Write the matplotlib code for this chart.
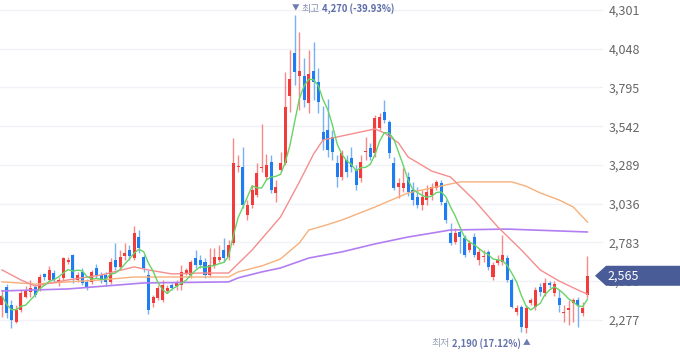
"""
Daily candle chart with 5/20/60/120 moving averages, Korean labels.
"""

import numpy as np
import pandas as pd
import matplotlib
matplotlib.use('Agg')
from matplotlib import pyplot as plt
from matplotlib.patches import Polygon
from matplotlib import transforms

plt.rcParams['font.family'] = ['Noto Sans CJK KR', 'DejaVu Sans']

# daily OHLC, oldest first
opens = [2374, 2492, 2374, 2263, 2342, 2427, 2459, 2492, 2472, 2577,
         2538, 2583, 2518, 2551, 2655, 2701, 2538, 2590, 2525, 2525,
         2616, 2570, 2570, 2525, 2668, 2623, 2694, 2734, 2681, 2818,
         2688, 2570, 2387, 2420, 2407, 2466, 2505, 2498, 2505, 2583,
         2570, 2681, 2668, 2655, 2570, 2636, 2668, 2734, 2688, 2779,
         3276, 3276, 2962, 3027, 3093, 3269, 3210, 3308, 3106, 3256,
         3302, 3739, 4020, 3870, 3870, 3693, 3902, 3831, 3504, 3517,
         3471, 3302, 3210, 3321, 3334, 3256, 3204, 3373, 3400, 3367,
         3530, 3635, 3569, 3302, 3145, 3138, 3210, 3125, 3080, 3027,
         3060, 3093, 3138, 3171, 3040, 2845, 2786, 2851, 2812, 2734,
         2818, 2668, 2688, 2721, 2557, 2649, 2655, 2681, 2538, 2329,
         2361, 2224, 2387, 2361, 2492, 2453, 2518, 2453, 2420, 2322,
         2342, 2387, 2407, 2322, 2440]
highs = [2472, 2511, 2407, 2374, 2472, 2498, 2538, 2511, 2577, 2583,
         2629, 2603, 2557, 2688, 2688, 2707, 2590, 2616, 2544, 2603,
         2642, 2590, 2590, 2681, 2779, 2734, 2779, 2766, 2890, 2864,
         2701, 2603, 2440, 2505, 2538, 2505, 2518, 2538, 2636, 2616,
         2668, 2734, 2701, 2681, 2747, 2747, 2766, 2812, 2799, 3465,
         3354, 3406, 3060, 3158, 3302, 3556, 3360, 3354, 3191, 3373,
         3896, 4040, 4270, 4157, 3987, 4040, 4092, 3922, 3674, 3720,
         3517, 3354, 3387, 3354, 3406, 3289, 3354, 3471, 3432, 3615,
         3628, 3713, 3582, 3341, 3204, 3269, 3243, 3178, 3145, 3125,
         3158, 3171, 3191, 3191, 3060, 2910, 2877, 2877, 2831, 2799,
         2845, 2747, 2734, 2734, 2655, 2701, 2831, 2701, 2551, 2374,
         2374, 2374, 2420, 2492, 2518, 2551, 2531, 2531, 2472, 2374,
         2407, 2420, 2427, 2394, 2694]
lows = [2296, 2289, 2224, 2257, 2329, 2420, 2427, 2427, 2466, 2538,
        2525, 2525, 2498, 2538, 2642, 2518, 2525, 2505, 2472, 2511,
        2551, 2518, 2498, 2511, 2603, 2603, 2668, 2668, 2668, 2714,
        2590, 2316, 2361, 2407, 2394, 2453, 2472, 2472, 2472, 2570,
        2551, 2616, 2616, 2551, 2557, 2616, 2655, 2655, 2668, 2766,
        3243, 3008, 2929, 3008, 3080, 3243, 3191, 3106, 3047, 3243,
        3289, 3635, 3811, 3648, 3667, 3628, 3713, 3628, 3387, 3341,
        3321, 3145, 3191, 3210, 3243, 3125, 3178, 3321, 3321, 3341,
        3517, 3563, 3334, 3125, 3073, 3112, 3086, 3027, 3008, 2995,
        3027, 3060, 3125, 3027, 2910, 2766, 2773, 2714, 2688, 2721,
        2688, 2636, 2655, 2603, 2538, 2636, 2636, 2525, 2355, 2309,
        2198, 2190, 2374, 2342, 2433, 2433, 2485, 2433, 2329, 2263,
        2244, 2263, 2231, 2303, 2420]
closes = [2433, 2322, 2276, 2342, 2453, 2472, 2485, 2440, 2557, 2557,
          2603, 2538, 2538, 2681, 2668, 2551, 2570, 2518, 2492, 2590,
          2570, 2538, 2525, 2655, 2623, 2688, 2714, 2694, 2845, 2747,
          2616, 2342, 2427, 2485, 2505, 2485, 2485, 2518, 2590, 2603,
          2655, 2636, 2636, 2570, 2636, 2688, 2688, 2681, 2766, 3302,
          3282, 3027, 3027, 3125, 3236, 3276, 3289, 3125, 3145, 3302,
          3667, 3850, 3896, 3902, 3713, 3883, 3831, 3700, 3452, 3387,
          3373, 3210, 3367, 3243, 3276, 3158, 3308, 3380, 3341, 3595,
          3602, 3582, 3367, 3138, 3171, 3171, 3112, 3060, 3027, 3080,
          3112, 3145, 3178, 3047, 2929, 2779, 2845, 2818, 2701, 2779,
          2701, 2721, 2694, 2623, 2636, 2668, 2701, 2538, 2361, 2355,
          2231, 2355, 2407, 2472, 2459, 2518, 2505, 2511, 2374, 2329,
          2355, 2407, 2374, 2355, 2565]

# longer averages (they need history before the window)
ma20_idx = [0, 4, 7, 14, 21, 28, 31, 36, 42, 48, 53, 59, 63, 66, 68, 72, 79,
            81, 84, 86, 91, 95, 100, 105, 110, 114, 118, 122, 124]
ma20_val = [2603, 2538, 2498, 2538, 2570, 2623, 2603, 2577, 2583, 2583,
            2734, 2949, 3178, 3360, 3452, 3478, 3524, 3498, 3432, 3341,
            3249, 3210, 3060, 2884, 2734, 2603, 2531, 2472, 2445]
ma60_idx = [0, 7, 14, 21, 28, 35, 48, 50, 55, 59, 63, 65, 68, 72, 79, 86,
            91, 97, 108, 111, 114, 118, 121, 124]
ma60_val = [2525, 2511, 2525, 2538, 2557, 2557, 2557, 2590, 2629, 2675,
            2780, 2864, 2890, 2929, 3014, 3106, 3138, 3178, 3178, 3150,
            3106, 3060, 3014, 2916]
ma120_idx = [0, 14, 30, 48, 50, 55, 59, 65, 72, 79, 86, 95, 107, 124]
ma120_val = [2466, 2479, 2518, 2525, 2551, 2590, 2616, 2681, 2721, 2773,
             2818, 2864, 2870, 2851]

y_ticks = [2277, 2530, 2783, 3036, 3289, 3542, 3795, 4048, 4301]
hi_idx, hi_val, hi_pct = 62, 4270, '-39.93%'
lo_idx, lo_val, lo_pct = 111, 2190, '17.12%'
last_val = 2565

RED = '#f23b3b'
BLUE = '#1e7df0'
PIX = transforms.IdentityTransform()


def draw_candles(ax, df):
    x = df.index.values
    up = (df['close'] >= df['open']).values
    cols = np.where(up, RED, BLUE)
    ax.vlines(x, df['low'], df['high'], colors=cols, lw=1, alpha=0.6,
              zorder=2)
    diff = (df['close'] - df['open']).abs()
    h = np.maximum(diff, 6)
    bottom = np.minimum(df['open'], df['close']) - (h - diff) / 2
    ax.bar(x, h, bottom=bottom, width=0.64, color=cols, lw=0, zorder=2)


def chain(fig, pieces, x, y, leftwards=False, gap=2):
    """lay text pieces side by side starting at pixel (x, y)"""
    r = fig.canvas.get_renderer()
    if leftwards:
        pieces = pieces[::-1]
    for s, style in pieces:
        t = fig.text(x, y, s, transform=PIX, va='center',
                     ha='right' if leftwards else 'left', **style)
        bb = t.get_window_extent(renderer=r)
        x = bb.x0 - gap if leftwards else bb.x1 + gap


W, H = 680, 358
fig = plt.figure(figsize=(W / 100, H / 100), dpi=100)
ax = fig.add_axes([0, 0, 603 / W, 1])

df = pd.DataFrame({'open': opens, 'high': highs, 'low': lows,
                   'close': closes})
ma5 = df['close'].rolling(5, min_periods=1).mean()

draw_candles(ax, df)
ax.plot(ma120_idx, ma120_val, color='#b27ff3', lw=1.2, zorder=3)
ax.plot(ma60_idx, ma60_val, color='#f7b07a', lw=1, zorder=3)
ax.plot(ma20_idx, ma20_val, color='#f58e8e', lw=1, zorder=3)
ax.plot(df.index, ma5, color='#66d466', lw=1, zorder=3)

ax.set_xlim(-0.42, 127.3)
ax.set_ylim(2028, 4366)
for s in ax.spines.values():
    s.set_visible(False)
ax.set_xticks([])
ax.yaxis.tick_right()
ax.set_yticks(y_ticks)
ax.set_yticklabels(['{:,}'.format(v) for v in y_ticks])
ax.tick_params(axis='y', length=0, pad=4, labelsize=9, labelcolor='#666666')
ax.grid(axis='y', color='#f1f2f7', lw=1, zorder=0)
ax.set_axisbelow(True)

fig.canvas.draw()

# high / low notes
tri = dict(fontsize=5.5, color='#6d7cb0')
lab = dict(fontsize=7.2)
val = dict(fontsize=6.8, fontweight='bold')
hx, hy = ax.transData.transform((hi_idx, hi_val))
chain(fig, [('▼', tri), ('최고', dict(lab, color='#8a93b3')),
            ('{:,} ({})'.format(hi_val, hi_pct), dict(val, color='#5b6ca8'))],
      hx - 3, hy + 6)
lx, ly = ax.transData.transform((lo_idx, lo_val))
chain(fig, [('최저', dict(lab, color='#9aa1b6')),
            ('{:,} ({})'.format(lo_val, lo_pct), dict(val, color='#6575ab')),
            ('▲', tri)],
      lx + 4, ly - 10, leftwards=True)

# current price tag on the right edge
yd = ax.transData.transform((0, last_val))[1]
tag = Polygon([(595, yd), (606, yd + 10), (W, yd + 10), (W, yd - 10),
               (606, yd - 10)], closed=True, facecolor='#4a5c97',
              edgecolor='none', transform=PIX, zorder=5)
fig.patches.append(tag)
fig.text(607 / W, yd / H, '{:,}'.format(last_val), color='white',
         fontsize=9, ha='left', va='center', zorder=6)

fig.savefig('out.png', dpi=100)
